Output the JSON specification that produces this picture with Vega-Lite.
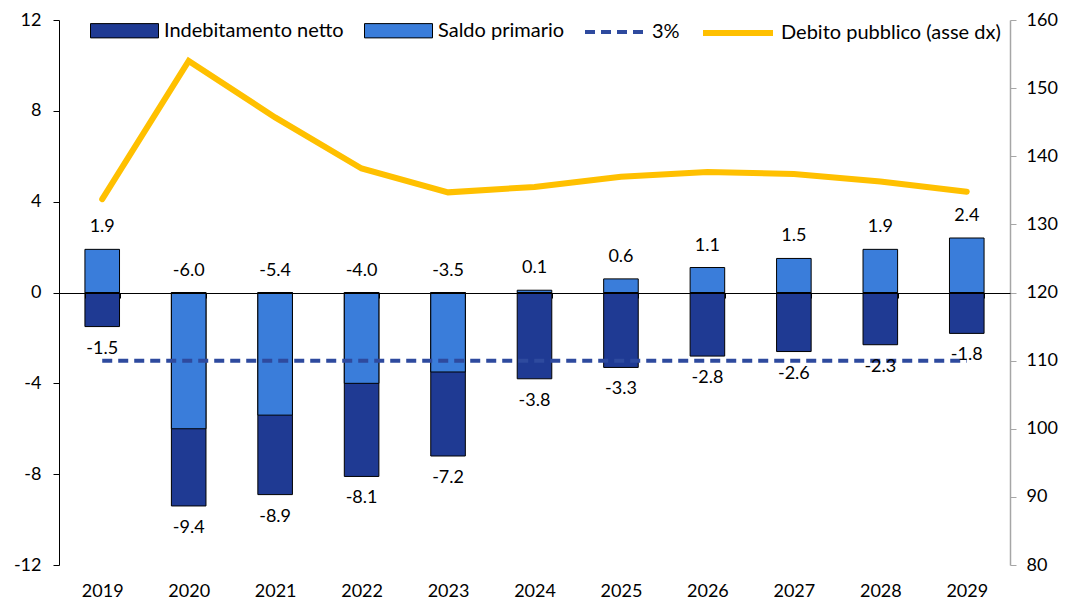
{
  "$schema": "https://vega.github.io/schema/vega-lite/v6.json",
  "width": 951,
  "height": 545,
  "autosize": {"type": "none"},
  "padding": {"left": 59, "top": 20, "right": 56, "bottom": 36},
  "background": "white",
  "config": {
    "view": {"stroke": null},
    "font": "Lato",
    "locale": {"number": {"decimal": ".", "thousands": ",", "grouping": [3], "currency": ["", ""], "minus": "-"}},
    "axis": {"labelFont": "Lato", "labelFontSize": 18, "labelColor": "black", "grid": false},
    "legend": {
      "orient": "none",
      "direction": "horizontal",
      "padding": 0,
      "labelFont": "Lato",
      "labelFontSize": 20,
      "labelColor": "black",
      "labelLimit": 400,
      "labelOffset": 5,
      "columnPadding": 18,
      "symbolOpacity": 1
    }
  },
  "data": {
    "values": [
      {"anno": "2019", "indeb": -1.5, "saldo": 1.9, "soglia": -3, "debito": 133.7},
      {"anno": "2020", "indeb": -9.4, "saldo": -6.0, "soglia": -3, "debito": 154.0},
      {"anno": "2021", "indeb": -8.9, "saldo": -5.4, "soglia": -3, "debito": 145.7},
      {"anno": "2022", "indeb": -8.1, "saldo": -4.0, "soglia": -3, "debito": 138.2},
      {"anno": "2023", "indeb": -7.2, "saldo": -3.5, "soglia": -3, "debito": 134.7},
      {"anno": "2024", "indeb": -3.8, "saldo": 0.1, "soglia": -3, "debito": 135.5},
      {"anno": "2025", "indeb": -3.3, "saldo": 0.6, "soglia": -3, "debito": 137.0},
      {"anno": "2026", "indeb": -2.8, "saldo": 1.1, "soglia": -3, "debito": 137.7},
      {"anno": "2027", "indeb": -2.6, "saldo": 1.5, "soglia": -3, "debito": 137.4},
      {"anno": "2028", "indeb": -2.3, "saldo": 1.9, "soglia": -3, "debito": 136.3},
      {"anno": "2029", "indeb": -1.8, "saldo": 2.4, "soglia": -3, "debito": 134.8}
    ]
  },
  "encoding": {
    "x": {
      "field": "anno",
      "type": "ordinal",
      "scale": {"paddingInner": 0.6, "paddingOuter": 0.3},
      "axis": {
        "title": null,
        "orient": "bottom",
        "offset": -272,
        "zindex": 1,
        "domainColor": "black",
        "domainWidth": 1,
        "tickColor": "black",
        "tickBand": "extent",
        "tickSize": 5,
        "labelAngle": 0,
        "labelPadding": 284
      }
    }
  },
  "layer": [
    {
      "layer": [
        {
          "mark": {"type": "bar", "stroke": "black", "strokeWidth": 1},
          "encoding": {
            "y": {
              "field": "indeb",
              "type": "quantitative",
              "scale": {"domain": [-12, 12], "nice": false, "zero": false},
              "axis": {
                "title": null,
                "values": [-12, -8, -4, 0, 4, 8, 12],
                "domainColor": "black",
                "tickColor": "black",
                "tickSize": 6,
                "labelPadding": 12
              }
            },
            "color": {
              "datum": "Indebitamento netto",
              "scale": {
                "domain": ["Indebitamento netto", "Saldo primario"],
                "range": ["#1F3A93", "#3A7DDA"]
              },
              "legend": {
                "title": null,
                "legendX": 31,
                "legendY": -24,
                "symbolType": "M-1,-0.21H1V0.21H-1Z",
                "symbolSize": 4624,
                "symbolStrokeColor": "black",
                "symbolStrokeWidth": 1
              }
            }
          }
        },
        {
          "mark": {"type": "bar", "stroke": "black", "strokeWidth": 1},
          "encoding": {
            "y": {"field": "saldo", "type": "quantitative"},
            "color": {"datum": "Saldo primario"}
          }
        },
        {
          "mark": {"type": "line", "stroke": "#2E4A9E", "strokeWidth": 4, "strokeCap": "butt"},
          "encoding": {
            "y": {"field": "soglia", "type": "quantitative"},
            "strokeDash": {
              "datum": "3%",
              "scale": {"domain": ["3%"], "range": [[10, 6]]},
              "legend": {
                "title": null,
                "legendX": 524,
                "legendY": -20,
                "symbolType": "M-1,0H1",
                "symbolSize": 3600,
                "symbolStrokeColor": "#2E4A9E",
                "symbolStrokeWidth": 4
              }
            }
          }
        },
        {
          "transform": [{"filter": "datum.saldo > 0"}],
          "mark": {"type": "text", "fontSize": 18, "font": "Lato", "color": "black", "baseline": "middle", "dy": -22},
          "encoding": {
            "y": {"field": "saldo", "type": "quantitative"},
            "text": {"field": "saldo", "type": "quantitative", "format": ".1f"}
          }
        },
        {
          "transform": [{"filter": "datum.saldo <= 0"}],
          "mark": {"type": "text", "fontSize": 18, "font": "Lato", "color": "black", "baseline": "middle", "dy": -22},
          "encoding": {
            "y": {"datum": 0, "type": "quantitative"},
            "text": {"field": "saldo", "type": "quantitative", "format": ".1f"}
          }
        },
        {
          "mark": {"type": "text", "fontSize": 18, "font": "Lato", "color": "black", "baseline": "middle", "dy": 22},
          "encoding": {
            "y": {"field": "indeb", "type": "quantitative"},
            "text": {"field": "indeb", "type": "quantitative", "format": ".1f"}
          }
        }
      ]
    },
    {
      "mark": {"type": "line", "stroke": "#FFC000", "strokeWidth": 6, "strokeCap": "round", "strokeJoin": "miter"},
      "encoding": {
        "y": {
          "field": "debito",
          "type": "quantitative",
          "scale": {"domain": [80, 160], "nice": false, "zero": false},
          "axis": {
            "title": null,
            "orient": "right",
            "values": [80, 90, 100, 110, 120, 130, 140, 150, 160],
            "domainColor": "#A6A6A6",
            "domainWidth": 1.5,
            "tickColor": "#A6A6A6",
            "tickSize": 6,
            "labelPadding": 10
          }
        },
        "opacity": {
          "datum": "Debito pubblico (asse dx)",
          "type": "ordinal",
          "scale": {"domain": ["Debito pubblico (asse dx)"], "range": [1]},
          "legend": {
            "title": null,
            "legendX": 641,
            "legendY": -25,
            "symbolType": "M-1,0H1",
            "symbolSize": 4900,
            "symbolStrokeColor": "#FFC000",
            "symbolStrokeWidth": 6
          }
        }
      }
    }
  ],
  "resolve": {"scale": {"y": "independent"}}
}
